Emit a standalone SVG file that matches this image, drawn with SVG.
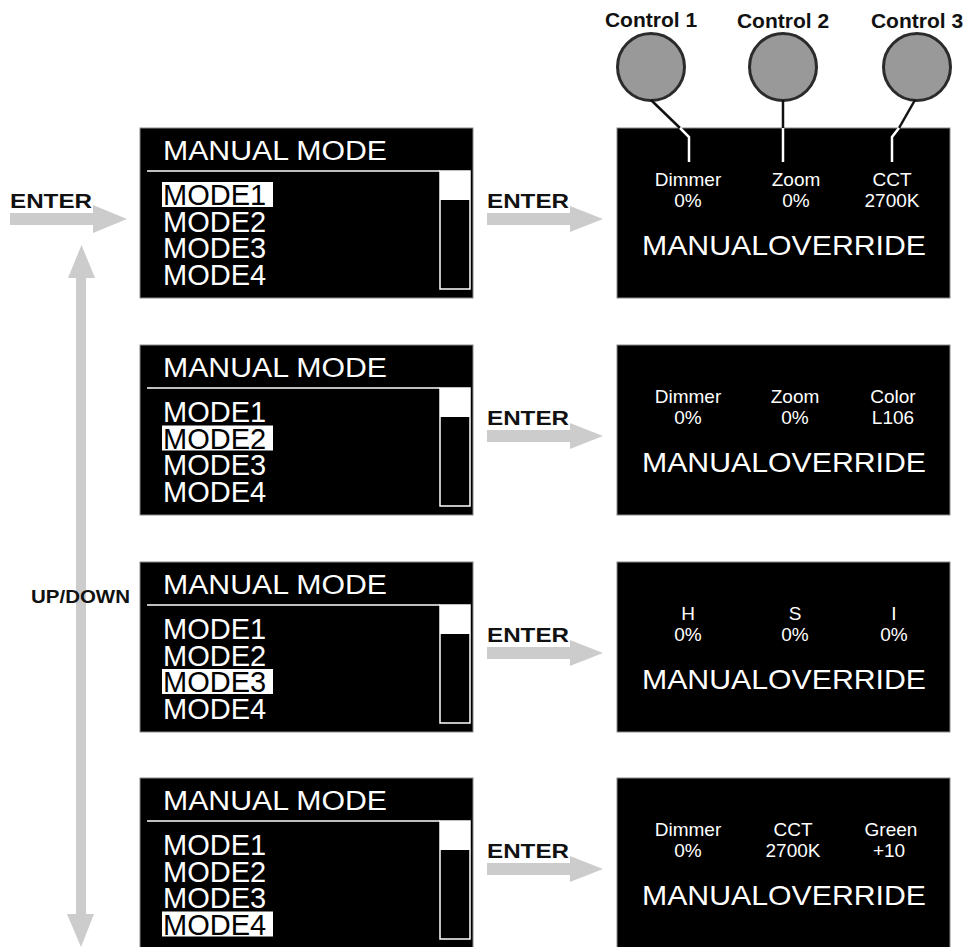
<svg xmlns="http://www.w3.org/2000/svg" width="966" height="947" viewBox="0 0 966 947">
<style>
.panel{fill:#000;stroke:#8a8a8a;stroke-width:1}
.ttl{font-family:"Liberation Sans",Arial,sans-serif;font-size:27px;fill:#fff}
.mode{font-family:"Liberation Sans",Arial,sans-serif;font-size:29px;fill:#fff}
.sel{fill:#000}
.hl{fill:#fff}
.sep{stroke:#fff;stroke-width:1.5}
.sb{fill:#000;stroke:#fff;stroke-width:1.5}
.small{font-family:"Liberation Sans",Arial,sans-serif;font-size:19px;fill:#fff;text-anchor:middle}
.big{font-family:"Liberation Sans",Arial,sans-serif;font-size:28px;fill:#fff;text-anchor:middle}
.lbl{font-family:"Liberation Sans",Arial,sans-serif;font-size:20px;font-weight:bold;fill:#111}
.ctl{font-family:"Liberation Sans",Arial,sans-serif;font-size:21px;font-weight:bold;fill:#111;text-anchor:middle}
.arrow{fill:#cccccc}
.knob{fill:#999;stroke:#2b2b2b;stroke-width:3}
.wk{stroke:#111;stroke-width:2.5;fill:none}
.ww{stroke:#fff;stroke-width:2.5;fill:none}
</style>
<defs>
<g id="menuBase">
<rect class="panel" x="140" y="128" width="333" height="170"/>
<text class="ttl" x="163" y="160" textLength="224" lengthAdjust="spacingAndGlyphs">MANUAL MODE</text>
<line class="sep" x1="147" y1="171" x2="440" y2="171"/>
<rect class="sb" x="440" y="171" width="30" height="118"/>
<rect fill="#fff" x="440" y="171" width="30" height="29"/>
</g>
<g id="arrowR">
<text class="lbl" x="487" y="208" textLength="82" lengthAdjust="spacingAndGlyphs">ENTER</text>
<path class="arrow" d="M487 213 H570 V206 L603 219 L570 232 V225 H487 Z"/>
</g>
</defs>

<g id="connectors">
<text class="lbl" x="10" y="208" textLength="82" lengthAdjust="spacingAndGlyphs">ENTER</text>
<path class="arrow" d="M10 213 H93 V205 L127 219 L93 233 V225 H10 Z"/>
<path class="arrow" d="M81.5 245 L95 278 H86 V914 H94 L81 947 L67 914 H76 V278 H68 Z"/>
<text class="lbl" x="31" y="603" style="font-size:18.5px" textLength="99" lengthAdjust="spacingAndGlyphs">UP/DOWN</text>
<use href="#arrowR"/>
<use href="#arrowR" transform="translate(0,217)"/>
<use href="#arrowR" transform="translate(0,434)"/>
<use href="#arrowR" transform="translate(0,650)"/>
</g>

<g id="menu1">
<use href="#menuBase"/>
<rect class="hl" x="162" y="182" width="111" height="25"/>
<text class="mode sel" x="163" y="205">MODE1</text>
<text class="mode" x="163" y="231.5">MODE2</text>
<text class="mode" x="163" y="258">MODE3</text>
<text class="mode" x="163" y="284.5">MODE4</text>
</g>

<g id="menu2" transform="translate(0,217)">
<use href="#menuBase"/>
<text class="mode" x="163" y="205">MODE1</text>
<rect class="hl" x="162" y="208.5" width="111" height="25"/>
<text class="mode sel" x="163" y="231.5">MODE2</text>
<text class="mode" x="163" y="258">MODE3</text>
<text class="mode" x="163" y="284.5">MODE4</text>
</g>

<g id="menu3" transform="translate(0,434)">
<use href="#menuBase"/>
<text class="mode" x="163" y="205">MODE1</text>
<text class="mode" x="163" y="231.5">MODE2</text>
<rect class="hl" x="162" y="235" width="111" height="25"/>
<text class="mode sel" x="163" y="258">MODE3</text>
<text class="mode" x="163" y="284.5">MODE4</text>
</g>

<g id="menu4" transform="translate(0,650)">
<use href="#menuBase"/>
<text class="mode" x="163" y="205">MODE1</text>
<text class="mode" x="163" y="231.5">MODE2</text>
<text class="mode" x="163" y="258">MODE3</text>
<rect class="hl" x="162" y="261.5" width="111" height="25"/>
<text class="mode sel" x="163" y="284.5">MODE4</text>
</g>

<g id="controls">
<text class="ctl" x="651" y="27">Control 1</text>
<text class="ctl" x="783" y="28">Control 2</text>
<text class="ctl" x="917" y="28">Control 3</text>
<circle class="knob" cx="651" cy="67" r="33.5"/>
<circle class="knob" cx="783" cy="67" r="33.5"/>
<circle class="knob" cx="917" cy="67" r="33.5"/>
</g>

<g id="override1">
<rect class="panel" x="617" y="128" width="333" height="170"/>
<path class="wk" d="M651 100 L680 128"/>
<path class="ww" d="M680 128 L689 137 V162"/>
<path class="wk" d="M783 100 V128"/>
<path class="ww" d="M783 128 V162"/>
<path class="wk" d="M915 100 L899 128"/>
<path class="ww" d="M899 128 L892 137 V162"/>
<text class="small" x="688" y="186">Dimmer</text>
<text class="small" x="688" y="207">0%</text>
<text class="small" x="796" y="186">Zoom</text>
<text class="small" x="796" y="207">0%</text>
<text class="small" x="892" y="186">CCT</text>
<text class="small" x="892" y="207">2700K</text>
<text class="big" x="784" y="255" textLength="284" lengthAdjust="spacingAndGlyphs">MANUALOVERRIDE</text>
</g>

<g id="override2" transform="translate(0,217)">
<rect class="panel" x="617" y="128" width="333" height="170"/>
<text class="small" x="688" y="186">Dimmer</text>
<text class="small" x="688" y="207">0%</text>
<text class="small" x="795" y="186">Zoom</text>
<text class="small" x="795" y="207">0%</text>
<text class="small" x="893" y="186">Color</text>
<text class="small" x="893" y="207">L106</text>
<text class="big" x="784" y="255" textLength="284" lengthAdjust="spacingAndGlyphs">MANUALOVERRIDE</text>
</g>

<g id="override3" transform="translate(0,434)">
<rect class="panel" x="617" y="128" width="333" height="170"/>
<text class="small" x="688" y="186">H</text>
<text class="small" x="688" y="207">0%</text>
<text class="small" x="795" y="186">S</text>
<text class="small" x="795" y="207">0%</text>
<text class="small" x="894" y="186">I</text>
<text class="small" x="894" y="207">0%</text>
<text class="big" x="784" y="255" textLength="284" lengthAdjust="spacingAndGlyphs">MANUALOVERRIDE</text>
</g>

<g id="override4" transform="translate(0,650)">
<rect class="panel" x="617" y="128" width="333" height="170"/>
<text class="small" x="688" y="186">Dimmer</text>
<text class="small" x="688" y="207">0%</text>
<text class="small" x="793" y="186">CCT</text>
<text class="small" x="793" y="207">2700K</text>
<text class="small" x="891" y="186">Green</text>
<text class="small" x="889" y="207">+10</text>
<text class="big" x="784" y="255" textLength="284" lengthAdjust="spacingAndGlyphs">MANUALOVERRIDE</text>
</g>
</svg>
